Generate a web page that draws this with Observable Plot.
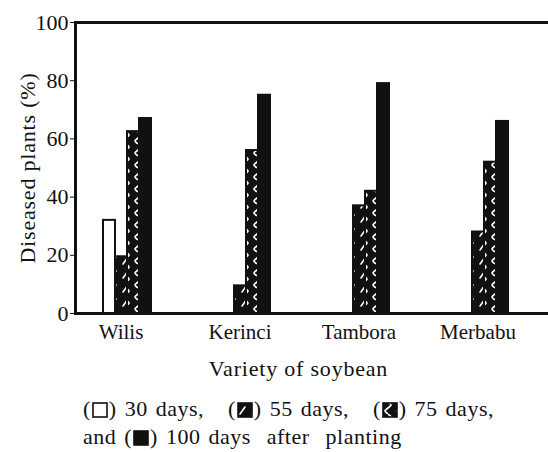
<!DOCTYPE html>
<html><head><meta charset="utf-8">
<script src="https://cdn.jsdelivr.net/npm/d3@7"></script>
<script src="https://cdn.jsdelivr.net/npm/@observablehq/plot@0.6"></script>
<style>
body{margin:0;overflow:hidden;background:#fff;font-family:"Liberation Serif","Times New Roman","DejaVu Serif",serif;}
#chart svg text{font-family:"Liberation Serif","Times New Roman","DejaVu Serif",serif !important;}
#chart svg [aria-label="y-axis label"] text, #chart svg .xtitle text{letter-spacing:0.8px;}
#legend{margin:10px 0 0 83px;font-size:22px;line-height:28px;color:#111;white-space:nowrap;letter-spacing:0.5px;word-spacing:2px;}
.sw{display:inline-block;vertical-align:-2px;margin:0 1px;}
</style></head><body>
<svg width="0" height="0" style="position:absolute">
<defs>
<pattern id="p55" patternUnits="userSpaceOnUse" width="12" height="14">
<rect width="12" height="14" fill="#111"/>
<path d="M3,12 L8,5" stroke="#fff" stroke-width="1.6" stroke-linecap="round"/>
</pattern>
<pattern id="p75" patternUnits="userSpaceOnUse" width="12" height="12">
<rect width="12" height="12" fill="#111"/>
<path d="M6,0 C10,3 10,3 6,6 C2,9 2,9 6,12" stroke="#fff" stroke-width="1.7" fill="none"/>
</pattern>
</defs></svg>
<div id="chart"></div><div id="legend"></div>
<script>
const varieties = ["Wilis", "Kerinci", "Tambora", "Merbabu"];
const periods = ["30 days", "55 days", "75 days", "100 days"];
const days30 = [32, 0, 0, 0];
const days55 = [19.5, 9.5, 37, 28];
const days75 = [62.5, 56, 42, 52];
const days100 = [67, 75, 79, 66];
const yTicks = [0, 20, 40, 60, 80, 100];
const xTitle = ["Variety of soybean"];
const fills = ["#fff", "url(#p55)", "url(#p75)", "#111"];

const series = [days30, days55, days75, days100];
const data = [];
varieties.forEach((v, i) => periods.forEach((p, j) => data.push({variety: v, period: p, value: series[j][i]})));

const serif = "Liberation Serif, Times New Roman, serif";
const chart = Plot.plot({
  width: 551, height: 385,
  marginLeft: 75, marginRight: 0, marginTop: 22, marginBottom: 72,
  style: {fontFamily: serif, fontSize: "20px", color: "#111", background: "#fff", maxWidth: "none"},
  fx: {domain: varieties, padding: 0},
  x: {domain: periods, paddingInner: 0, paddingOuter: 2.958, align: 0.394, axis: null},
  y: {domain: [0, 100], axis: null},
  color: {domain: periods, range: fills},
  marks: [
    Plot.barY(data, {fx: "variety", x: "period", y: "value", fill: "period", stroke: "#111", strokeWidth: 2, inset: 0}),
    Plot.frame({facet: "super", stroke: "#111", strokeWidth: 3}),
    Plot.axisY({ticks: yTicks, tickSize: 5, tickPadding: 2, fontSize: 22, fontFamily: serif,
      label: "Diseased plants (%)", labelArrow: "none", labelAnchor: "center", labelOffset: 56}),
    Plot.axisFx({anchor: "bottom", tickSize: 0, tickPadding: 11, dx: -14, fontSize: 21, fontFamily: serif, label: null}),
    Plot.text(xTitle, {text: d => d, facet: "super", frameAnchor: "bottom", dy: 62, dx: -15,
      fontSize: 22, fontFamily: serif, fill: "#111", className: "xtitle"})
  ]
});
document.getElementById("chart").appendChild(chart);

function swatch(fill) {
  return `<svg class="sw" width="16" height="16"><rect x="1" y="1" width="14" height="14" fill="${fill}" stroke="#111" stroke-width="1.6"/></svg>`;
}
const lg = document.getElementById("legend");
lg.innerHTML = `(${swatch(fills[0])}) ${periods[0]}, &nbsp;&nbsp;(${swatch(fills[1])}) ${periods[1]}, &nbsp;&nbsp;(${swatch(fills[2])}) ${periods[2]},<br>and (${swatch(fills[3])}) ${periods[3]} &nbsp;after &nbsp;planting`;
</script>
</body></html>
